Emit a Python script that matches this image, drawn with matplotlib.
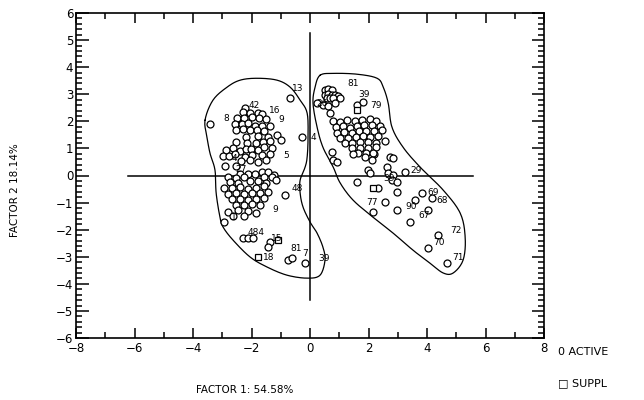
import numpy as np
import matplotlib
matplotlib.use("Agg")
import matplotlib.pyplot as plt
from matplotlib.ticker import MultipleLocator

# active points, left group (factor 1, factor 2)
left_x = [-2.22, -2.29, -2.05, -1.78, -1.64, -2.50, -2.26, -1.98, -1.74, -1.50,
          -2.56, -2.32, -2.12, -1.88, -1.64, -1.37, -2.53, -2.29, -2.05, -1.81,
          -1.57, -2.19, -1.78, -1.44, -1.13, -2.53, -2.15, -1.85, -1.61, -1.37,
          -0.99, -2.87, -2.63, -2.39, -2.19, -2.02, -1.78, -1.57, -1.30, -2.97,
          -2.77, -2.56, -2.22, -1.98, -1.64, -1.37, -2.36, -2.05, -1.78, -1.50,
          -2.91, -2.53, -2.39, -2.12, -1.88, -1.64, -1.44, -1.23, -2.80, -2.53,
          -2.26, -1.57, -1.30, -2.74, -2.46, -2.05, -1.78, -1.50, -1.16, -2.94,
          -2.67, -2.39, -2.12, -1.85, -1.57, -2.80, -2.53, -2.26, -1.98, -1.71,
          -1.44, -2.67, -2.39, -2.12, -1.85, -1.57, -2.53, -2.26, -1.98, -1.71,
          -2.80, -2.46, -2.12, -1.85, -2.63, -2.26, -2.94, -0.85, -2.29, -2.12,
          -1.95, -1.37, -1.44, -0.75, -0.62, -0.17, -0.68, -0.27, -3.42]
left_y = [2.48, 2.34, 2.30, 2.30, 2.26, 2.11, 2.11, 2.15, 2.11, 2.08,
          1.89, 1.89, 1.93, 1.82, 1.82, 1.82, 1.67, 1.71, 1.67, 1.67,
          1.63, 1.41, 1.45, 1.41, 1.49, 1.23, 1.19, 1.19, 1.23, 1.27,
          1.30, 0.93, 1.01, 0.90, 0.97, 0.97, 0.93, 1.04, 1.01, 0.71,
          0.71, 0.79, 0.68, 0.75, 0.75, 0.79, 0.53, 0.56, 0.49, 0.56,
          0.34, 0.34, 0.05, 0.05, 0.05, 0.12, 0.12, 0.01, -0.06, -0.10,
          -0.06, -0.06, -0.06, -0.25, -0.28, -0.21, -0.21, -0.28, -0.17, -0.47,
          -0.47, -0.43, -0.51, -0.47, -0.39, -0.69, -0.65, -0.69, -0.65, -0.65,
          -0.62, -0.87, -0.87, -0.91, -0.87, -0.84, -1.10, -1.10, -1.06, -1.10,
          -1.35, -1.28, -1.32, -1.39, -1.50, -1.50, -1.72, -0.73, -2.31, -2.31,
          -2.31, -2.46, -2.65, -3.12, -3.05, -3.24, 2.85, 1.41, 1.89]

# active points, right group
right_x = [0.51, 0.62, 0.75, 0.51, 0.62, 0.75, 0.85, 0.96, 0.58, 0.68,
           0.79, 1.03, 0.44, 0.62, 0.85, 0.24, 1.61, 1.81, 0.68, 0.79,
           1.03, 1.26, 1.54, 1.78, 2.05, 2.26, 0.89, 1.13, 1.37, 1.61,
           1.85, 2.12, 2.39, 0.92, 1.16, 1.44, 1.68, 1.91, 2.19, 2.46,
           1.03, 1.30, 1.57, 1.81, 2.05, 2.32, 1.20, 1.44, 1.71, 1.98,
           2.26, 2.56, 1.44, 1.71, 1.98, 2.26, 1.64, 1.91, 2.19, 0.75,
           0.79, 0.92, 1.47, 1.88, 2.15, 2.74, 2.84, 2.12, 2.63, 1.98,
           2.05, 2.67, 2.84, 2.80, 2.97, 3.25, 1.61, 2.32, 2.97, 3.83,
           4.17, 2.15, 2.56, 2.97, 3.59, 3.42, 4.03, 4.38, 4.03, 4.68]
right_y = [3.15, 3.18, 3.15, 2.96, 3.00, 2.96, 2.96, 2.93, 2.85, 2.85,
           2.85, 2.85, 2.59, 2.56, 2.67, 2.67, 2.59, 2.70, 2.30, 2.00,
           1.97, 2.04, 2.00, 2.04, 2.08, 2.00, 1.78, 1.82, 1.75, 1.82,
           1.86, 1.86, 1.82, 1.56, 1.60, 1.56, 1.63, 1.63, 1.63, 1.67,
           1.38, 1.38, 1.41, 1.45, 1.41, 1.45, 1.19, 1.19, 1.23, 1.23,
           1.19, 1.27, 1.01, 1.01, 1.01, 1.04, 0.82, 0.82, 0.79, 0.86,
           0.56, 0.49, 0.79, 0.68, 0.82, 0.68, 0.64, 0.56, 0.31, 0.20,
           0.08, 0.08, 0.01, -0.17, -0.25, 0.12, -0.25, -0.47, -0.62, -0.65,
           -0.84, -1.35, -0.99, -1.28, -0.91, -1.72, -1.28, -2.20, -2.68, -3.24]

# supplementary points
suppl_x = [-1.09, -1.78, 1.61, 2.15]
suppl_y = [-2.39, -3.01, 2.41, -0.47]

# point labels
lab_text = ["13", "42", "16", "8", "9", "5", "4", "27", "9", "1", "48", "484",
            "15", "18", "81", "7", "39", "4",
            "81", "39", "79", "26", "29", "39", "69", "68", "77", "90", "67",
            "72", "70", "71"]
lab_x = [-0.62, -2.10, -1.40, -2.95, -1.08, -0.90, -2.68, -2.55, -1.28, -2.72,
         -0.62, -2.15, -1.35, -1.62, -0.66, -0.28, 0.27, 0.00,
         1.26, 1.66, 2.05, 0.22, 3.42, 2.50, 4.00, 4.32, 1.92, 3.25, 3.70,
         4.79, 4.21, 4.85]
lab_y = [3.22, 2.59, 2.41, 2.11, 2.08, 0.75, 0.62, 0.22, -1.24, -1.54,
         -0.47, -2.09, -2.31, -3.03, -2.68, -2.88, -3.05, 1.40,
         3.41, 2.98, 2.60, 2.67, 0.20, -0.10, -0.62, -0.91, -0.99, -1.13, -1.46,
         -2.02, -2.46, -3.01]

# enclosing curves
loop1_x = [-3.59, -3.32, -2.84, -2.39, -1.81, -1.13, -0.68, -0.34, -0.10, -0.07,
           -0.10, -0.17, -0.34, -0.34, -0.24, 0.00, 0.24, 0.44, 0.51, 0.34,
           -0.10, -0.79, -1.47, -2.05, -2.63, -2.97, -3.08, -3.21, -3.25, -3.42,
           -3.52]
loop1_y = [2.04, 2.78, 3.26, 3.52, 3.59, 3.52, 3.26, 2.78, 2.30, 1.41,
           0.68, 0.31, -0.17, -0.65, -1.17, -1.72, -2.13, -2.65, -3.12, -3.68,
           -3.79, -3.68, -3.38, -3.01, -2.39, -1.91, -1.54, -0.65, 0.20, 0.82,
           1.41]
loop2_x = [0.34, 0.79, 1.61, 2.29, 2.50, 2.67, 2.80, 3.18, 3.76, 4.55,
           5.13, 5.30, 5.23, 4.89, 4.55, 4.10, 3.52, 2.84, 2.15, 1.47,
           1.03, 0.79, 0.44, 0.24, 0.10, 0.17]
loop2_y = [3.70, 3.77, 3.74, 3.59, 3.26, 2.67, 1.78, 1.04, 0.31, -0.54,
           -1.39, -2.28, -3.12, -3.60, -3.60, -3.24, -2.76, -2.13, -1.54, -0.91,
           -0.28, 0.31, 1.04, 1.78, 2.67, 3.26]


def smooth_loop(xs, ys, n=12):
    # closed catmull-rom curve through the points
    p = np.column_stack([xs, ys])
    m = len(p)
    out = []
    t = np.linspace(0, 1, n, endpoint=False)[:, None]
    for i in range(m):
        p0, p1, p2, p3 = p[i - 1], p[i], p[(i + 1) % m], p[(i + 2) % m]
        seg = 0.5 * ((2 * p1) + (-p0 + p2) * t + (2 * p0 - 5 * p1 + 4 * p2 - p3) * t ** 2
                     + (-p0 + 3 * p1 - 3 * p2 + p3) * t ** 3)
        out.append(seg)
    out = np.vstack(out + [p[:1]])
    return out[:, 0], out[:, 1]


plt.rcParams['font.family'] = ['DejaVu Sans']
fig = plt.figure(figsize=(6.44, 4.0), dpi=100)
ax = fig.add_axes([0.118, 0.155, 0.727, 0.8125])

ax.set_xlim(-8, 8)
ax.set_ylim(-6, 6)

ax.plot([-6.22, 5.57], [0, 0], color='black', lw=1.1)
ax.plot([0, 0], [-4.6, 5.25], color='black', lw=1.1)

for lx, ly in [(loop1_x, loop1_y), (loop2_x, loop2_y)]:
    sx, sy = smooth_loop(lx, ly)
    ax.plot(sx, sy, color='black', lw=0.9)

ax.plot(left_x, left_y, 'o', ms=5, mfc='white', mec='black', mew=0.9)
ax.plot(right_x, right_y, 'o', ms=5, mfc='white', mec='black', mew=0.9)
ax.plot(suppl_x, suppl_y, 's', ms=5, mfc='white', mec='black', mew=0.9)

for t, x, y in zip(lab_text, lab_x, lab_y):
    ax.text(x, y, t, fontsize=6.5, ha='left', va='center')

ax.xaxis.set_major_locator(MultipleLocator(2))
ax.xaxis.set_minor_locator(MultipleLocator(1))
ax.yaxis.set_major_locator(MultipleLocator(1))
ax.yaxis.set_minor_locator(MultipleLocator(0.2))
ax.tick_params(which='both', direction='in', top=True, right=True, labelsize=8.5, width=1.1)
ax.tick_params(axis='y', which='major', length=9, pad=2)
ax.tick_params(axis='x', which='major', length=7, pad=3)
ax.tick_params(which='minor', length=4)
for s in ax.spines.values():
    s.set_linewidth(1.2)

fig.text(0.023, 0.525, "FACTOR 2 18.14%", rotation=90, ha='center', va='center', fontsize=7.5)
fig.text(0.38, 0.025, "FACTOR 1: 54.58%", ha='center', va='center', fontsize=7.5)
fig.text(0.866, 0.12, "0 ACTIVE", ha='left', va='center', fontsize=8)
fig.text(0.866, 0.043, "\u25a1 SUPPL", ha='left', va='center', fontsize=8)

fig.savefig("out.png", dpi=100)
